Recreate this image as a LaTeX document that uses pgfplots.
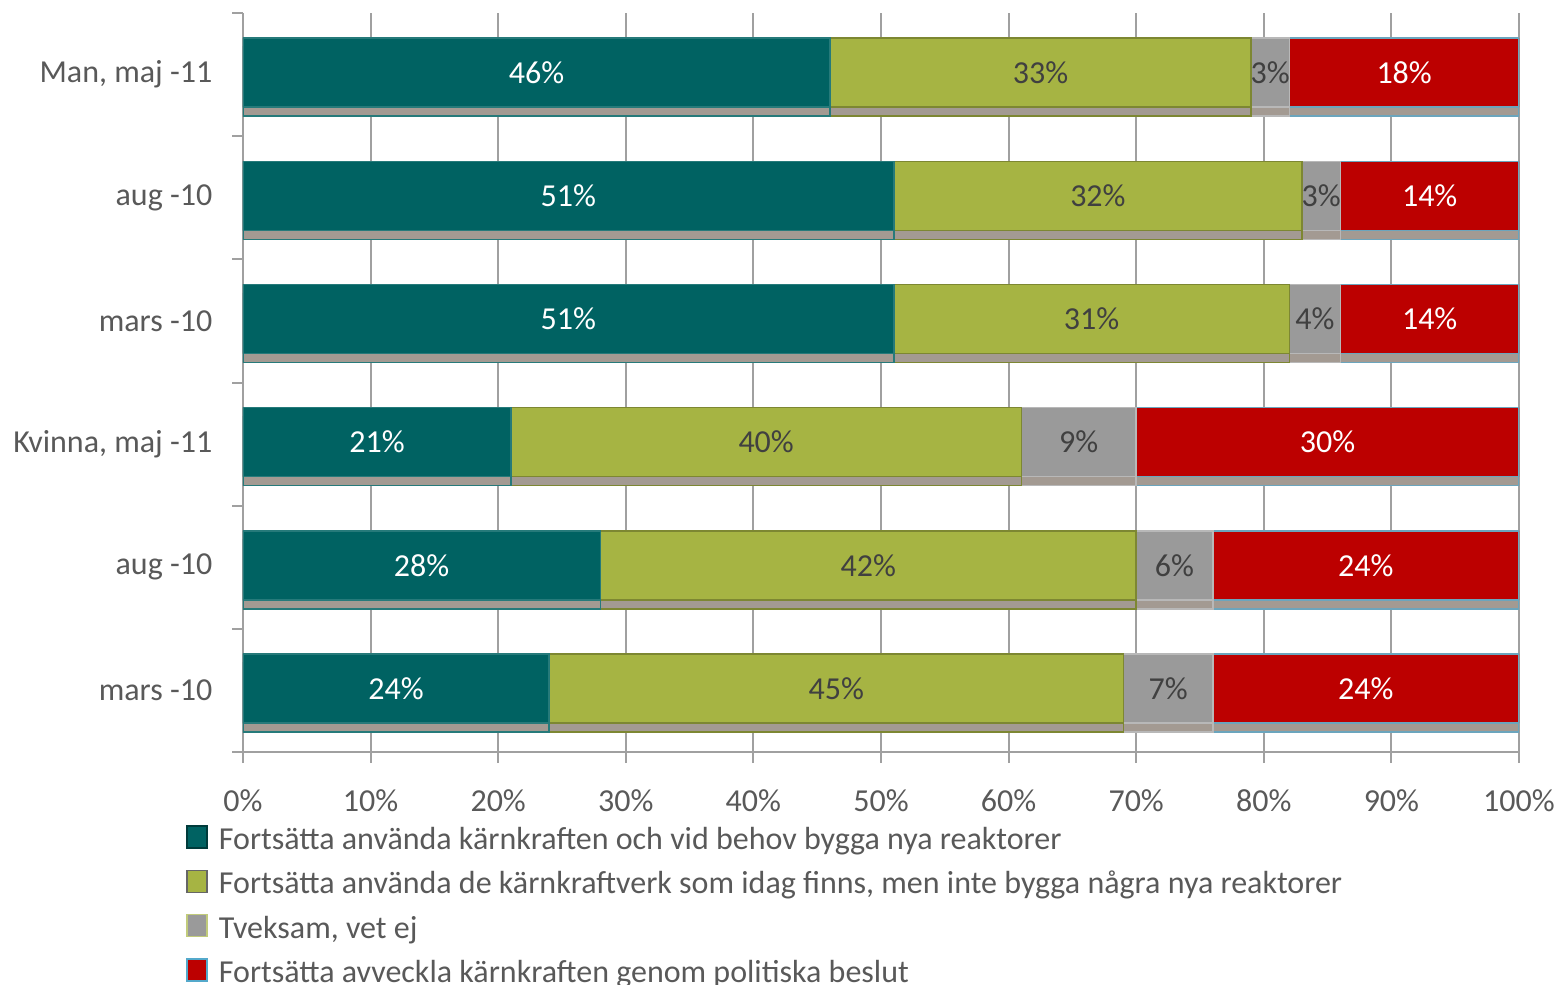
\documentclass[border=0pt]{standalone}
\usepackage{pgfplots}
\usepackage{pgfplotstable}
\pgfplotsset{compat=1.18}
\usepackage{fontspec}
\setmainfont{Carlito}
\usetikzlibrary{shadows}
\definecolor{cteal}{HTML}{006262}
\definecolor{colive}{HTML}{A6B443}
\definecolor{cgray}{HTML}{9A9A9A}
\definecolor{cred}{HTML}{BC0000}
\definecolor{ctext}{HTML}{595959}
\definecolor{cgrid}{HTML}{A0A0A0}
\definecolor{cshadow}{HTML}{A39A92}
\newcommand\legbox[2]{\pgfsetfillcolor{#1}\pgfsetstrokecolor{#2}\pgfsetlinewidth{0.75pt}%
  \pgfpathrectangle{\pgfpoint{0pt}{-3pt}}{\pgfpoint{10pt}{11pt}}\pgfusepath{fill,stroke}}
\pgfplotstableread{
y a b c d
0 46 33 3 18
1 51 32 3 14
2 51 31 4 14
3 21 40 9 30
4 28 42 6 24
5 24 45 7 24
}\data
\begin{document}
\begin{tikzpicture}
\path[use as bounding box] (0,0) rectangle (779.5pt,492.5pt);
\begin{axis}[
  at={(121.5pt,116.5pt)}, anchor=south west,
  scale only axis, width=638pt, height=369.5pt,
  xbar stacked, bar width=34.5pt, bar shift=1pt,
  xmin=0, xmax=100, ymin=-0.5, ymax=5.5, y dir=reverse,
  axis x line*=bottom, axis y line*=left,
  axis line style={cgrid, line width=1pt},
  xtick={0,10,...,100},
  xticklabel={\pgfmathprintnumber{\tick}\%},
  /pgf/number format/assume math mode=true,
  ytick={0,...,5},
  yticklabels={{Man, maj -11},{aug -10},{mars -10},{Kvinna, maj -11},{aug -10},{mars -10}},
  minor ytick={-0.5,0.5,...,5.5},
  tick align=outside,
  major tick length=5.5pt, minor tick length=5.5pt,
  major y tick style={draw=none},
  tick style={cgrid, line width=1pt},
  xmajorgrids, grid style={cgrid, line width=1pt},
  ticklabel style={font=\fontsize{16}{19}\selectfont, text=ctext},
  xticklabel style={yshift=-10pt},
  yticklabel style={xshift=-6.3pt},
  nodes near coords={\pgfmathprintnumber{\pgfplotspointmeta}\%},
  every node near coord/.append style={font=\fontsize{16}{19}\selectfont},
  legend style={at={(0,0)}, anchor=north west, xshift=-28.5pt, yshift=-36.5pt,
    draw=none, fill=none, font=\fontsize{16}{19}\selectfont, text=ctext,
    row sep=6.5pt, inner sep=0pt, nodes={inner xsep=5.5pt, inner ysep=0pt, text height=11pt, text depth=3.5pt}},
  legend cell align=left,
  every axis plot/.append style={drop shadow={shadow xshift=0pt, shadow yshift=-4.5pt, fill=cshadow, opacity=1}},
]
\addplot[fill=cteal, draw=cteal!85!white, line width=0.75pt, every node near coord/.append style={text=white},
  legend image code/.code={\legbox{cteal}{cteal!60!black}}] table[x=a, y=y] {\data};
\addplot[fill=colive, draw=colive!75!black, line width=0.75pt, every node near coord/.append style={text=black!75},
  legend image code/.code={\legbox{colive}{black!60}}] table[x=b, y=y] {\data};
\addplot[fill=cgray, draw=cgray!70!white, line width=0.75pt, every node near coord/.append style={text=black!75},
  legend image code/.code={\legbox{cgray}{colive!70!white}}] table[x=c, y=y] {\data};
\addplot[fill=cred, draw=cyan!45!gray, line width=0.75pt, every node near coord/.append style={text=white},
  legend image code/.code={\legbox{cred}{cyan!60!gray}}] table[x=d, y=y] {\data};
\legend{{Fortsätta använda kärnkraften och vid behov bygga nya reaktorer},
{Fortsätta använda de kärnkraftverk som idag finns, men inte bygga några nya reaktorer},
{Tveksam, vet ej},
{Fortsätta avveckla kärnkraften genom politiska beslut}}
\end{axis}
\end{tikzpicture}
\end{document}
